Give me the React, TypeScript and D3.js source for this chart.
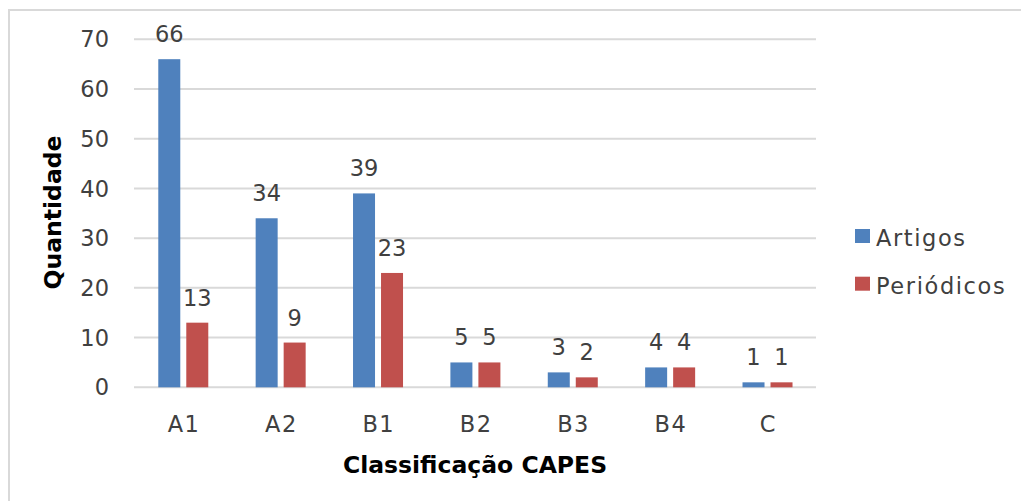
import React from "react";
import * as d3 from "d3";

const categories = ["A1", "A2", "B1", "B2", "B3", "B4", "C"];
const seriesNames = ["Artigos", "Periódicos"];
const artigos = [66, 34, 39, 5, 3, 4, 1];
const periodicos = [13, 9, 23, 5, 2, 4, 1];
const yTicks = [0, 10, 20, 30, 40, 50, 60, 70];
const colors = ["#4f81bd", "#c0504d"];

const W = 1021;
const H = 501;
const FONT = "'DejaVu Sans', sans-serif";
const TEXT = "#404040";
const FS = 22.5;

export default function App() {
  const x = d3.scaleBand<string>().domain(categories).range([134.6, 816.2]).padding(0);
  const y = d3.scaleLinear().domain([0, 70]).range([387.3, 39.3]);
  const groupW = 50;
  const xInner = d3
    .scaleBand<string>()
    .domain(seriesNames)
    .range([0, groupW])
    .paddingInner(2 - groupW / 28)
    .paddingOuter(0);
  const values = [artigos, periodicos];

  return (
    <svg
      width={W}
      height={H}
      style={{ position: "absolute", left: 0, top: 0, background: "#fff" }}
      fontFamily={FONT}
    >
      <rect x={9} y={10} width={W} height={H} fill="#fff" stroke="#d9d9d9" strokeWidth={2} />

      {/* gridlines */}
      {yTicks.map((t) => (
        <line key={t} x1={134} x2={816} y1={y(t)} y2={y(t)} stroke="#d9d9d9" strokeWidth={2} />
      ))}

      {/* y tick labels */}
      {yTicks.map((t) => (
        <text key={t} x={109} y={y(t)} dy="0.36em" textAnchor="end" fontSize={FS} fill={TEXT}>
          {t}
        </text>
      ))}

      {/* bars and value labels */}
      {seriesNames.map((s, si) =>
        categories.map((c, ci) => {
          const v = values[si][ci];
          const bx = (x(c) as number) + (x.bandwidth() - groupW) / 2 + (xInner(s) as number);
          const bw = xInner.bandwidth();
          return (
            <g key={s + c}>
              <rect x={bx} y={y(v)} width={bw} height={y(0) - y(v)} fill={colors[si]} />
              <text x={bx + bw / 2} y={y(v) - 17} textAnchor="middle" fontSize={FS} fill={TEXT}>
                {v}
              </text>
            </g>
          );
        })
      )}

      {/* category labels */}
      {categories.map((c) => (
        <text
          key={c}
          x={(x(c) as number) + x.bandwidth() / 2 + 0.75}
          y={432}
          textAnchor="middle"
          fontSize={FS}
          letterSpacing={1.5}
          fill={TEXT}
        >
          {c}
        </text>
      ))}

      {/* axis titles */}
      <text x={475} y={473} textAnchor="middle" fontSize={23.5} fontWeight="bold" fill="#000">
        Classificação CAPES
      </text>
      <text
        transform="translate(61,212.5) rotate(-90)"
        textAnchor="middle"
        fontSize={23.5}
        fontWeight="bold"
        fill="#000"
      >
        Quantidade
      </text>

      {/* legend */}
      {seriesNames.map((s, i) => (
        <g key={s} transform={`translate(855,${229 + i * 47.7})`}>
          <rect width={15} height={14} fill={colors[i]} />
          <text x={21} y={17} fontSize={FS} letterSpacing={1.6} fill={TEXT}>
            {s}
          </text>
        </g>
      ))}
    </svg>
  );
}
